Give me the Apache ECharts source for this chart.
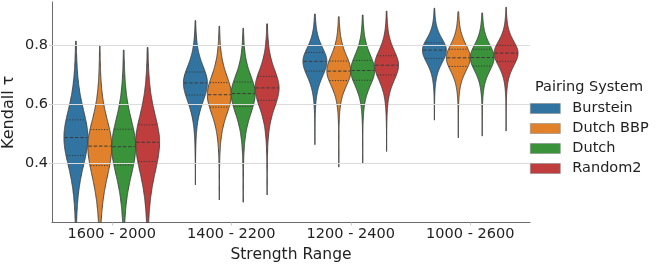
<!DOCTYPE html>
<html><head><meta charset="utf-8">
<script src="https://cdn.jsdelivr.net/npm/echarts@6/dist/echarts.min.js"></script>
<style>html,body{margin:0;padding:0;background:#fff}#c{width:664px;height:266px}</style>
</head><body><div id="c"></div>
<script>
const categories = ['1600 - 2000', '1400 - 2200', '1200 - 2400', '1000 - 2600'];
const systems = ['Burstein', 'Dutch BBP', 'Dutch', 'Random2'];
const colors = ['#3274a1', '#e1812c', '#3a923a', '#c03d3e'];
const yTicks = [0.4, 0.6, 0.8];
const Y_MIN = 0.2, Y_MAX = 0.947;
// per category: [min, q1, median, q3, max]
const burstein = [[0.12, 0.427, 0.488, 0.548, 0.814], [0.328, 0.632, 0.673, 0.710, 0.884], [0.464, 0.713, 0.746, 0.776, 0.906], [0.547, 0.756, 0.784, 0.809, 0.926]];
const dutchBBP = [[0.12, 0.393, 0.459, 0.515, 0.801], [0.277, 0.591, 0.633, 0.674, 0.865], [0.388, 0.681, 0.713, 0.747, 0.897], [0.487, 0.729, 0.758, 0.787, 0.914]];
const dutch = [[0.12, 0.395, 0.457, 0.516, 0.784], [0.269, 0.593, 0.637, 0.676, 0.858], [0.400, 0.682, 0.715, 0.749, 0.903], [0.493, 0.730, 0.759, 0.787, 0.910]];
const random2 = [[0.12, 0.407, 0.472, 0.531, 0.793], [0.294, 0.614, 0.656, 0.695, 0.873], [0.441, 0.700, 0.733, 0.765, 0.916], [0.510, 0.746, 0.774, 0.800, 0.929]];
const allStats = [burstein, dutchBBP, dutch, random2];

const FONT = 'DejaVu Sans';
const K = 1.15, NU = 6;

function makeRender(h) {
  return function (params, api) {
    const ci = api.value(0), mn = api.value(1), q1 = api.value(2), md = api.value(3), q3 = api.value(4), mx = api.value(5);
    const band = api.size([1, 0])[0];
    const slot = band * 0.8 / 4;
    const cx = api.coord([ci, md])[0] + (h - 1.5) * slot;
    const W = slot / 2 * 1.0;
    const sLo = (md - q1) / 0.674 * K, sHi = (q3 - md) / 0.674 * K;
    const hw = v => {
      const z = (v - md) / (v < md ? sLo : sHi);
      return W * Math.pow(1 + z * z / NU, -(NU + 1) / 2);
    };
    const lo = Math.max(mn, Y_MIN), hi = Math.min(mx, Y_MAX);
    const N = 160, right = [], left = [];
    for (let i = 0; i <= N; i++) {
      const v = lo + (hi - lo) * i / N;
      const y = api.coord([ci, v])[1];
      const w = Math.max(hw(v), 0.05);
      right.push([cx + w, y]);
      left.push([cx - w, y]);
    }
    const pts = right.concat(left.reverse());
    const children = [{
      type: 'polygon', shape: { points: pts },
      style: { fill: colors[h], stroke: '#404040', lineWidth: 0.9 }
    }];
    [[q1, false], [md, true], [q3, false]].forEach(([v, isMed]) => {
      const y = api.coord([ci, v])[1];
      const w = hw(v);
      children.push({
        type: 'line', shape: { x1: cx - w + 0.5, y1: y, x2: cx + w - 0.5, y2: y },
        style: { stroke: '#3a3a3a', lineWidth: 1, lineDash: isMed ? [3.5, 1.8] : [1.2, 1.5] }
      });
    });
    return { type: 'group', children };
  };
}

const series = [{
  type: 'line', data: [], z: 0, silent: true,
  markLine: {
    silent: true, symbol: ['none', 'none'], animation: false,
    label: { show: false },
    lineStyle: { color: '#dcdcdc', type: 'solid', width: 1 },
    data: yTicks.map(v => ({ yAxis: v }))
  }
}];
systems.forEach((name, h) => {
  series.push({
    type: 'custom', name, z: 2 + h, clip: true,
    itemStyle: { color: colors[h] },
    renderItem: makeRender(h),
    encode: { x: 0, y: 3 },
    data: allStats[h].map((s, ci) => [ci, s[0], s[1], s[2], s[3], s[4]])
  });
});

const chart = echarts.init(document.getElementById('c'), null, { renderer: 'canvas' });
chart.setOption({
  animation: false,
  backgroundColor: '#fff',
  textStyle: { fontFamily: FONT },
  grid: { left: 52, right: 134, top: 2, bottom: 43.4, containLabel: false, outerBoundsMode: 'none' },
  title: {
    text: 'Pairing System', left: 535, top: 80, padding: 0,
    textStyle: { fontFamily: FONT, fontSize: 14.5, fontWeight: 'normal', color: '#222' }
  },
  legend: {
    orient: 'vertical', left: 530, top: 101, itemWidth: 30, itemHeight: 10, itemGap: 5, padding: 0,
    icon: 'rect',
    textStyle: { fontFamily: FONT, fontSize: 14.5, color: '#222', padding: [0, 0, 0, 7] },
    data: systems.map((n, i) => ({ name: n, itemStyle: { color: colors[i], borderColor: '#8a8a8a', borderWidth: 0.6 } }))
  },
  xAxis: {
    type: 'category', data: categories, boundaryGap: true,
    axisLine: { lineStyle: { color: '#6b6b6b', width: 1 } },
    axisTick: { show: true, alignWithLabel: true, length: 3, lineStyle: { color: '#cccccc' } },
    axisLabel: { fontFamily: FONT, fontSize: 14.5, color: '#222', margin: 4 },
    splitLine: { show: false },
    name: 'Strength Range', nameLocation: 'middle', nameGap: 24, nameMoveOverlap: false,
    nameTextStyle: { fontFamily: FONT, fontSize: 15.5, color: '#222' }
  },
  yAxis: {
    type: 'value', min: Y_MIN, max: Y_MAX,
    axisLine: { show: true, lineStyle: { color: '#6b6b6b', width: 1 } },
    axisTick: { show: true, length: 3, lineStyle: { color: '#cccccc' }, customValues: yTicks },
    axisLabel: { fontFamily: FONT, fontSize: 14.5, color: '#222', margin: 4, customValues: yTicks, formatter: v => v.toFixed(1) },
    splitLine: { show: false },
    name: 'Kendall τ', nameLocation: 'middle', nameGap: 35, nameMoveOverlap: false,
    nameTextStyle: { fontFamily: FONT, fontSize: 16, color: '#222' }
  },
  series
});
</script>
</body></html>
